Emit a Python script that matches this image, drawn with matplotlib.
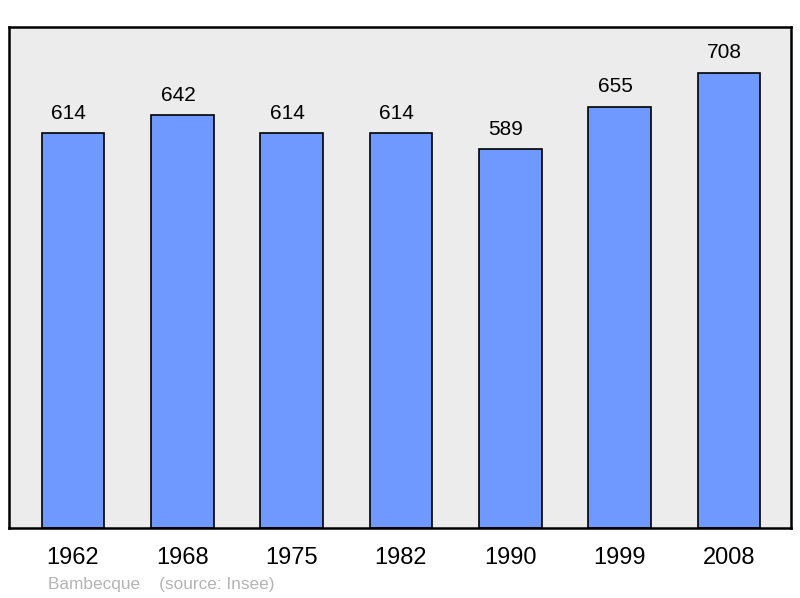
import matplotlib
matplotlib.use("Agg")
import matplotlib.pyplot as plt

years = ["1962", "1968", "1975", "1982", "1990", "1999", "2008"]
population = [614, 642, 614, 614, 589, 655, 708]

plt.rcParams['font.family'] = ['Liberation Sans', 'DejaVu Sans']

fig = plt.figure(figsize=(8.0, 5.98), dpi=100)
ax = fig.add_axes([9 / 800, 1 - 528 / 598, 782 / 800, 501 / 598])
ax.set_facecolor("#ececec")

x = list(range(len(years)))
ax.bar(x, population, width=0.575, color="#7099ff", edgecolor="black", linewidth=1.2)
# value labels sit a little left of the bar centre in the original
for xi, v in zip(x, population):
    ax.text(xi - 0.04, v + 16, str(v), ha="center", va="bottom", fontsize=15)

ax.set_xlim(-0.585, 6.567)
ax.set_ylim(0, 779)
ax.set_yticks([])
ax.set_xticks(x)
ax.set_xticklabels(years, fontsize=17)
ax.tick_params(axis="x", length=0, pad=13.5)
for s in ax.spines.values():
    s.set_linewidth(1.8)

fig.text(48 / 800, 1 - 584.5 / 598, "Bambecque    (source: Insee)", fontsize=12.4,
         color="#b4b4b4", va="center", ha="left")

fig.savefig("out.png", dpi=100)
